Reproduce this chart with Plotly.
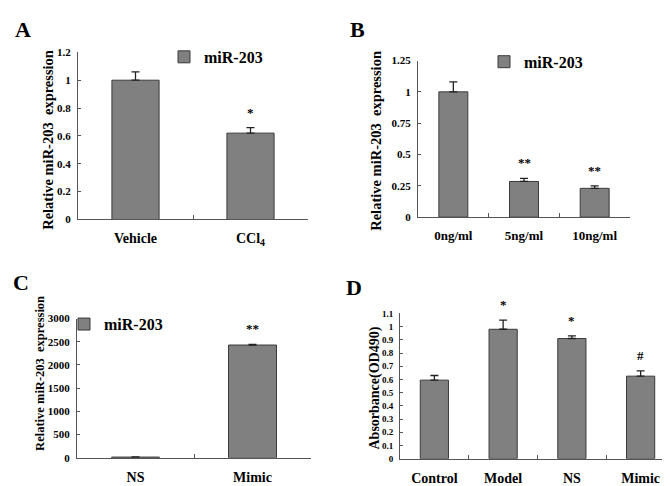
import plotly.graph_objects as go

# ---- data ----
cats_a = ["Vehicle", "CCl<sub>4</sub>"]
vals_a = [1.0, 0.62]
err_a = [0.06, 0.04]
sig_a = ["", "*"]

cats_b = ["0ng/ml", "5ng/ml", "10ng/ml"]
vals_b = [1.0, 0.285, 0.23]
err_b = [0.08, 0.025, 0.02]
sig_b = ["", "**", "**"]

cats_c = ["NS", "Mimic"]
vals_c = [15, 2430]
err_c = [5, 15]
sig_c = ["", "**"]

cats_d = ["Control", "Model", "NS", "Mimic"]
vals_d = [0.595, 0.98, 0.91, 0.625]
err_d = [0.035, 0.07, 0.02, 0.04]
sig_d = ["", "*", "*", "#"]

W, H = 670, 486
FONT = "Liberation Serif"
BAR_FILL = "#808080"
BAR_LINE = "#3a3a3a"
AXIS_COL = "#555555"


def px_x(p):
    return p / W


def px_y(p):
    return 1 - p / H


# panel geometry in pixels: x0, x1 of plot area, y of zero line, y of top tick
panels = {
    "a": dict(x0=70, x1=300, ybot=210.7, ytop=39.3, rng=[0, 1.2], dtick=0.2),
    "b": dict(x0=410, x1=622, ybot=208.3, ytop=47.7, rng=[0, 1.25], dtick=0.25),
    "c": dict(x0=69, x1=303, ybot=455, ytop=312.3, rng=[0, 3000], dtick=500),
    "d": dict(x0=392, x1=667, ybot=456, ytop=307, rng=[0, 1.1], dtick=0.1),
}

series = {
    "a": (cats_a, vals_a, err_a, sig_a),
    "b": (cats_b, vals_b, err_b, sig_b),
    "c": (cats_c, vals_c, err_c, sig_c),
    "d": (cats_d, vals_d, err_d, sig_d),
}

fig = go.Figure()
layout = {}
annotations = []

legends = {
    "a": dict(name="legend", x=156, y=44),
    "b": dict(name="legend2", x=476, y=49),
    "c": dict(name="legend3", x=56, y=318),
}

tick_sizes = {"a": 11, "b": 11, "c": 11, "d": 9}
cat_sizes = {"a": 14, "b": 13, "c": 14, "d": 14}

for i, key in enumerate(["a", "b", "c", "d"]):
    n = "" if i == 0 else str(i + 1)
    cats, vals, errs, sigs = series[key]
    g = panels[key]
    trace = go.Bar(
        x=cats, y=vals,
        xaxis="x" + n, yaxis="y" + n,
        width=0.41,
        marker=dict(color=BAR_FILL, line=dict(color=BAR_LINE, width=1)),
        error_y=dict(type="data", array=errs, arrayminus=[0] * len(errs),
                     symmetric=False, color="#222222", thickness=1.3, width=4),
        name="miR-203",
        showlegend=key in legends,
    )
    if key in legends:
        trace.legend = legends[key]["name"]
    fig.add_trace(trace)

    layout["xaxis" + n] = dict(
        domain=[px_x(g["x0"]), px_x(g["x1"])], anchor="y" + n,
        showline=True, linecolor=AXIS_COL, linewidth=1,
        ticks="inside", ticklen=4, tickcolor=AXIS_COL, tickson="boundaries",
        tickfont=dict(family=FONT, size=cat_sizes[key], color="black", weight="bold"),
        ticklabelstandoff=6, showgrid=False, zeroline=False, fixedrange=True,
    )
    layout["yaxis" + n] = dict(
        domain=[px_y(g["ybot"]), px_y(g["ytop"])], anchor="x" + n,
        range=g["rng"], dtick=g["dtick"],
        showline=True, linecolor=AXIS_COL, linewidth=1,
        ticks="inside", ticklen=3, tickcolor=AXIS_COL,
        tickfont=dict(family=FONT, size=tick_sizes[key], color="black", weight="bold"),
        ticklabelstandoff=4, showgrid=False, zeroline=False, fixedrange=True,
    )

    for c, v, e, s in zip(cats, vals, errs, sigs):
        if s:
            annotations.append(dict(
                x=c, y=v + e, xref="x" + n, yref="y" + n, text=s, showarrow=False,
                yanchor="bottom", yshift=6,
                font=dict(family=FONT, size=13, color="black", weight="bold"),
            ))

# legends
for key, lg in legends.items():
    layout[lg["name"]] = dict(
        x=px_x(lg["x"]), y=px_y(lg["y"]), xanchor="left", yanchor="middle",
        bgcolor="rgba(0,0,0,0)", borderwidth=0,
        font=dict(family=FONT, size=16, color="black", weight="bold"),
    )

# y-axis titles as rotated annotations
ytitles = [
    ("Relative miR-203&nbsp;&nbsp;expression", 40, 129, 14.5),
    ("Relative miR-203&nbsp;&nbsp;expression", 368, 130, 14.5),
    ("Relative miR-203&nbsp;&nbsp;expression", 32, 369, 12.5),
    ("Absorbance(OD490)", 367, 384, 14),
]
for txt, xp, yp, fs in ytitles:
    annotations.append(dict(
        x=px_x(xp), y=px_y(yp), xref="paper", yref="paper", text=txt,
        textangle=-90, showarrow=False, xanchor="center", yanchor="middle",
        font=dict(family=FONT, size=fs, color="black", weight="bold"),
    ))

# panel letters
letters = [("A", 15, 16), ("B", 350, 16), ("C", 13, 275), ("D", 346, 280)]
for txt, xp, yp in letters:
    annotations.append(dict(
        x=px_x(xp), y=px_y(yp), xref="paper", yref="paper", text=txt,
        showarrow=False, xanchor="center", yanchor="middle",
        font=dict(family=FONT, size=22, color="black", weight="bold"),
    ))

fig.update_layout(
    width=W, height=H,
    margin=dict(l=0, r=0, t=0, b=0),
    paper_bgcolor="white", plot_bgcolor="white",
    annotations=annotations,
    **layout,
)

fig.write_html("out.html", config={"displayModeBar": False})
